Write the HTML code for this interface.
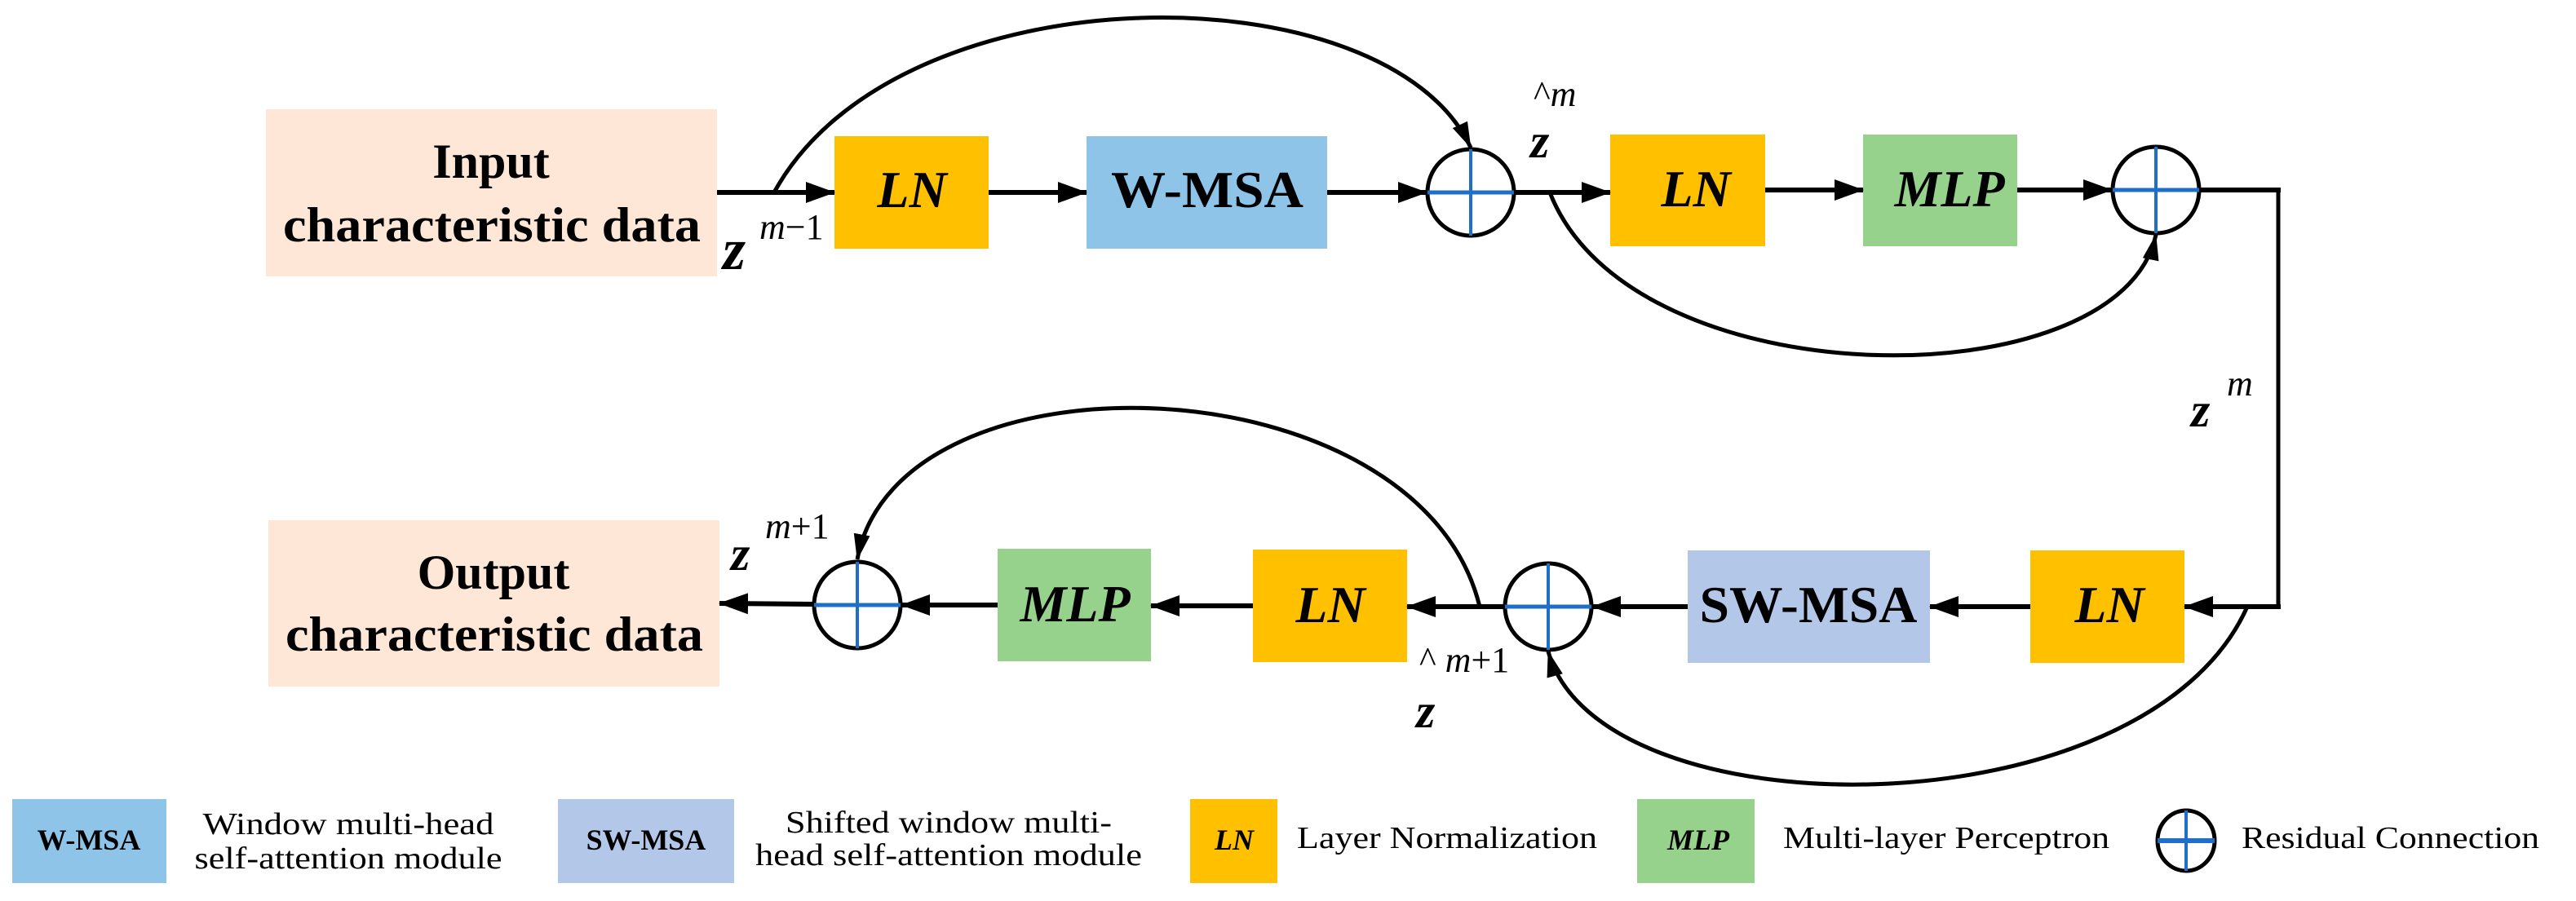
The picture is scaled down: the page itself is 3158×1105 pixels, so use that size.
<!DOCTYPE html>
<html><head><meta charset="utf-8"><style>
html,body{margin:0;padding:0;background:#fff;}
svg{display:block;}
text{font-family:"Liberation Serif",serif;}
</style></head><body>
<svg width="3158" height="1105" viewBox="0 0 3158 1105" xmlns="http://www.w3.org/2000/svg">
<defs>
<marker id="a" markerUnits="userSpaceOnUse" viewBox="0 0 36 26" refX="35" refY="13" markerWidth="36" markerHeight="26" orient="auto"><path d="M0,0 L36,13 L0,26 Z" fill="#000"/></marker>
<marker id="b" markerUnits="userSpaceOnUse" viewBox="0 0 32 20" refX="31" refY="10" markerWidth="32" markerHeight="20" orient="auto"><path d="M0,0 L32,10 L0,20 Z" fill="#000"/></marker>
</defs>
<rect x="326" y="134" width="553" height="205" fill="#fee7d7"/>
<rect x="1023" y="167" width="189" height="138" fill="#ffc000"/>
<rect x="1332" y="167" width="295" height="138" fill="#8dc4e8"/>
<rect x="1974" y="165" width="190" height="137" fill="#ffc000"/>
<rect x="2284" y="165" width="189" height="137" fill="#96d28c"/>
<rect x="329" y="638" width="553" height="204" fill="#fee7d7"/>
<rect x="1223" y="673" width="188" height="138" fill="#96d28c"/>
<rect x="1536" y="674" width="189" height="138" fill="#ffc000"/>
<rect x="2069" y="675" width="297" height="138" fill="#b3c8e9"/>
<rect x="2489" y="675" width="189" height="138" fill="#ffc000"/>
<g font-weight="bold" font-size="60" text-anchor="middle">
<text x="602" y="218">Input</text>
<text x="603" y="296" textLength="512" lengthAdjust="spacingAndGlyphs">characteristic data</text>
<text x="605" y="722">Output</text>
<text x="606" y="798" textLength="512" lengthAdjust="spacingAndGlyphs">characteristic data</text>
</g>
<g font-weight="bold" font-size="64" text-anchor="middle">
<text x="1118" y="254" font-style="italic">LN</text>
<text x="1480" y="254" textLength="236" lengthAdjust="spacingAndGlyphs">W-MSA</text>
<text x="2079" y="253" font-style="italic">LN</text>
<text x="2390" y="253" font-style="italic">MLP</text>
<text x="2586" y="763" font-style="italic">LN</text>
<text x="2217" y="763" textLength="267" lengthAdjust="spacingAndGlyphs">SW-MSA</text>
<text x="1631" y="763" font-style="italic">LN</text>
<text x="1318" y="762" font-style="italic">MLP</text>
</g>
<g stroke="#000" stroke-width="6" fill="none">
<line x1="879" y1="236" x2="1023" y2="236" marker-end="url(#a)"/>
<line x1="1212" y1="236" x2="1332" y2="236" marker-end="url(#a)"/>
<line x1="1627" y1="236" x2="1749" y2="236" marker-end="url(#a)"/>
<line x1="1856" y1="236" x2="1974" y2="236" marker-end="url(#a)"/>
<line x1="2164" y1="233" x2="2284" y2="233" marker-end="url(#a)"/>
<line x1="2473" y1="233" x2="2589" y2="233" marker-end="url(#a)"/>
<line x1="2697" y1="233" x2="2796" y2="233"/>
<line x1="2793" y1="230" x2="2793" y2="747" stroke-width="5"/>
<line x1="2796" y1="744" x2="2678" y2="744" marker-end="url(#a)"/>
<line x1="2489" y1="744" x2="2366" y2="744" marker-end="url(#a)"/>
<line x1="2069" y1="744" x2="1952" y2="744" marker-end="url(#a)"/>
<line x1="1844" y1="744" x2="1725" y2="744" marker-end="url(#a)"/>
<line x1="1536" y1="743" x2="1411" y2="743" marker-end="url(#a)"/>
<line x1="1223" y1="742" x2="1105" y2="742" marker-end="url(#a)"/>
<line x1="997" y1="741" x2="882" y2="740" marker-end="url(#a)"/>
</g>
<g stroke="#000" stroke-width="5" fill="none">
<path d="M949,236 C1100,-40 1700,-40 1803,181" marker-end="url(#b)"/>
<path d="M1900,236 C2000,493 2600,493 2643,288" marker-end="url(#b)"/>
<path d="M1814,744 C1740,440 1100,420 1051,686" marker-end="url(#b)"/>
<path d="M2755,744 C2630,1025 1960,1025 1898,799" marker-end="url(#b)"/>
</g>
<g>
<g transform="translate(1803,236)"><circle r="53" fill="#fff" stroke="#000" stroke-width="5"/><line x1="-53" y1="0" x2="53" y2="0" stroke="#1f6fc9" stroke-width="5"/><line x1="0" y1="-53" x2="0" y2="53" stroke="#1f6fc9" stroke-width="4"/></g>
<g transform="translate(2643,233)"><circle r="53" fill="#fff" stroke="#000" stroke-width="5"/><line x1="-53" y1="0" x2="53" y2="0" stroke="#1f6fc9" stroke-width="5"/><line x1="0" y1="-53" x2="0" y2="53" stroke="#1f6fc9" stroke-width="4"/></g>
<g transform="translate(1898,744)"><circle r="53" fill="#fff" stroke="#000" stroke-width="5"/><line x1="-53" y1="0" x2="53" y2="0" stroke="#1f6fc9" stroke-width="5"/><line x1="0" y1="-53" x2="0" y2="53" stroke="#1f6fc9" stroke-width="4"/></g>
<g transform="translate(1051,742)"><circle r="53" fill="#fff" stroke="#000" stroke-width="5"/><line x1="-53" y1="0" x2="53" y2="0" stroke="#1f6fc9" stroke-width="5"/><line x1="0" y1="-53" x2="0" y2="53" stroke="#1f6fc9" stroke-width="4"/></g>
</g>
<g font-style="italic">
<text x="886" y="330" font-size="72" font-weight="bold">z</text>
<text x="931" y="293" font-size="44">m<tspan font-style="normal">−1</tspan></text>
<text x="1876" y="193" font-size="60" font-weight="bold">z</text>
<text x="1880" y="130" font-size="44"><tspan font-style="normal">^</tspan>m</text>
<text x="2686" y="523" font-size="60" font-weight="bold">z</text>
<text x="2730" y="485" font-size="44">m</text>
<text x="896" y="699" font-size="60" font-weight="bold">z</text>
<text x="938" y="660" font-size="44">m<tspan font-style="normal">+1</tspan></text>
<text x="1736" y="892" font-size="60" font-weight="bold">z</text>
<text x="1740" y="824" font-size="44"><tspan font-style="normal">^</tspan> m<tspan font-style="normal">+1</tspan></text>
</g>
<rect x="15" y="980" width="189" height="103" fill="#8dc4e8"/>
<rect x="684" y="980" width="216" height="103" fill="#b3c8e9"/>
<rect x="1459" y="980" width="107" height="103" fill="#ffc000"/>
<rect x="2007" y="980" width="144" height="103" fill="#96d28c"/>
<g font-weight="bold" font-size="36" text-anchor="middle">
<text x="109" y="1042">W-MSA</text>
<text x="792" y="1042">SW-MSA</text>
<text x="1513" y="1042" font-style="italic">LN</text>
<text x="2082" y="1042" font-style="italic">MLP</text>
</g>
<g font-size="38" text-anchor="middle">
<text x="427" y="1023" textLength="357" lengthAdjust="spacingAndGlyphs">Window multi-head</text>
<text x="427" y="1065" textLength="377" lengthAdjust="spacingAndGlyphs">self-attention module</text>
<text x="1163" y="1021" textLength="400" lengthAdjust="spacingAndGlyphs">Shifted window multi-</text>
<text x="1163" y="1061" textLength="474" lengthAdjust="spacingAndGlyphs">head self-attention module</text>
</g>
<g font-size="38">
<text x="1590" y="1040" textLength="368" lengthAdjust="spacingAndGlyphs">Layer Normalization</text>
<text x="2186" y="1040" textLength="400" lengthAdjust="spacingAndGlyphs">Multi-layer Perceptron</text>
<text x="2748" y="1040" textLength="365" lengthAdjust="spacingAndGlyphs">Residual Connection</text>
</g>
<g transform="translate(2680,1031)"><ellipse rx="35" ry="37" fill="#fff" stroke="#000" stroke-width="5"/><line x1="-35" y1="0" x2="35" y2="0" stroke="#1f6fc9" stroke-width="6"/><line x1="0" y1="-37" x2="0" y2="37" stroke="#1f6fc9" stroke-width="4"/></g>
</svg>
</body></html>
